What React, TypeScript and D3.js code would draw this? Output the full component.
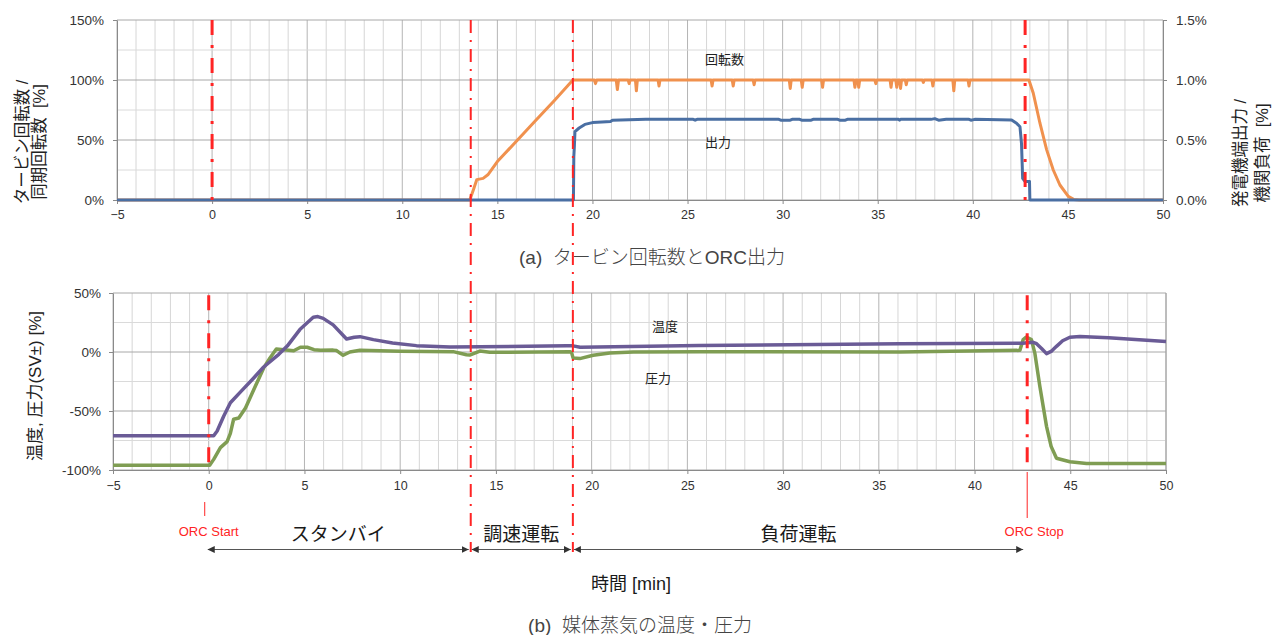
import React, {useEffect, useRef} from 'react';
import * as d3 from "d3";

// time [min], value [%]
const speedData: [number, number][] = [
    [-5, 0], [13.55, 0], [13.75, 9], [13.92, 17], [14.25, 18], [14.5, 21], [15, 32], [16, 49], [17, 66], [18, 83], [18.97, 100],
    [20.1, 100], [20.16, 97], [20.22, 100],
    [21.25, 100], [21.31, 92], [21.37, 100],
    [21.88, 100], [21.93, 97], [21.98, 100],
    [22.26, 100], [22.31, 91], [22.36, 100],
    [23.45, 100], [23.5, 95], [23.55, 100],
    [26.24, 100], [26.29, 95], [26.34, 100],
    [27.35, 100], [27.4, 95], [27.45, 100],
    [28.45, 100], [28.5, 96], [28.55, 100],
    [30.35, 100], [30.4, 93], [30.45, 100],
    [30.98, 100], [31.03, 94], [31.08, 100],
    [32.05, 100], [32.1, 94], [32.15, 100],
    [33.75, 100], [33.8, 94], [33.85, 100],
    [33.95, 100], [34.0, 94], [34.05, 100],
    [34.85, 100], [34.9, 97], [34.95, 100],
    [35.65, 100], [35.7, 94], [35.75, 100],
    [35.95, 100], [36.0, 94], [36.05, 100],
    [36.15, 100], [36.2, 93], [36.25, 100],
    [36.45, 100], [36.5, 96], [36.55, 100],
    [37.35, 100], [37.4, 98], [37.45, 100],
    [37.85, 100], [37.9, 95], [37.95, 100],
    [38.95, 100], [39.0, 91], [39.05, 100],
    [39.75, 100], [39.8, 95], [39.85, 100],
    [42.95, 100], [43.18, 89], [43.53, 64], [43.88, 42], [44.23, 25], [44.58, 12.5], [45.02, 3], [45.3, 0.5], [45.6, 0], [50, 0]
]
// right axis [%]
const powerData: [number, number][] = [
    [-5, 0], [19.0, 0], [19.02, 0.36], [19.05, 0.45], [19.08, 0.57], [19.3, 0.6], [19.6, 0.63], [20.0, 0.645], [20.5, 0.65],
    [20.95, 0.655], [21.05, 0.665], [22.8, 0.672], [25.3, 0.672], [25.4, 0.665], [25.5, 0.672], [29.8, 0.672], [29.9, 0.665],
    [30.4, 0.665], [30.5, 0.672], [30.9, 0.672], [31.0, 0.665], [31.5, 0.665], [31.6, 0.672], [32.9, 0.672], [33.0, 0.665],
    [33.3, 0.665], [33.4, 0.672], [36.1, 0.672], [36.15, 0.665], [36.2, 0.672], [37.8, 0.672], [38.0, 0.678], [38.2, 0.665],
    [38.6, 0.672], [39.8, 0.672], [39.9, 0.665], [40.1, 0.672], [42.04, 0.667], [42.3, 0.64], [42.48, 0.61], [42.56, 0.47],
    [42.62, 0.18], [42.74, 0.155], [42.98, 0.155], [43.0, 0], [50, 0]
]
const tempData: [number, number][] = [
    [-5, -71], [0.26, -71], [0.44, -67], [0.78, -54.5], [1.13, -43], [1.65, -34], [2.35, -22], [2.87, -12.7], [3.66, -2],
    [4.1, 5], [4.76, 19], [5.46, 29.5], [5.7, 30], [5.98, 28.5], [6.5, 23], [7.2, 11], [7.6, 12.5], [7.9, 13], [8.6, 10.5],
    [9.6, 7.6], [10.85, 5.4], [12.6, 4.2], [18.7, 5.2], [19.03, 5.2], [19.4, 4], [25.6, 5.5], [36.1, 7], [42.5, 7.5], [43.06, 8.2],
    [43.24, 7], [43.5, 3], [43.76, -1.4], [44.0, 0.5], [44.28, 4.8], [44.6, 9.5], [44.98, 12.5], [45.5, 13.2], [47, 12], [50, 9]
]
const pressData: [number, number][] = [
    [-5, -96], [0.05, -96], [0.26, -91], [0.61, -81], [0.96, -76], [1.13, -69], [1.3, -57], [1.57, -56], [1.92, -47.5],
    [2.35, -32], [2.87, -13.5], [3.2, -5], [3.53, 2.5], [4.44, 1], [4.79, 4], [5.14, 4], [5.5, 2], [5.84, 1.4], [6.5, 1.6],
    [6.68, 1.2], [7.02, -2.8], [7.37, 0], [7.9, 1.4], [10, 0.6], [12.77, 0.3], [13.46, -2.3], [13.63, -2.6], [14.16, 0.8],
    [14.68, -0.3], [18.86, 0.3], [18.95, -0.3], [19.03, -5], [19.38, -5.6], [20.08, -2.8], [20.95, -0.8], [22.17, 0],
    [25.65, 0.3], [36.1, 0], [42.37, 1.4], [42.54, 10.5], [42.7, 12.7], [42.97, 10.5], [43.15, -1], [43.41, -29],
    [43.76, -63], [44.0, -80], [44.28, -90], [44.98, -93], [45.85, -94.4], [50, -94.4]
]

const xTicks = [-5, 0, 5, 10, 15, 20, 25, 30, 35, 40, 45, 50]
const topLeftTicks = [0, 50, 100, 150]
const topRightTicks = [0, 0.5, 1.0, 1.5]
const bottomTicks = [-100, -50, 0, 50]
// ORC start, governor start, load start, ORC stop [min]
const events = [0, 13.6, 18.97, 42.75]
const phases = ["スタンバイ", "調速運転", "負荷運転"]

const FONT = "'Liberation Sans', Arial, 'Noto Sans CJK JP', sans-serif"
const RED = "#ff2424"

const App = () => {
    const svgRef = useRef(null)
    const width = 1282
    const height = 635

    useEffect(() => {
        const svg = d3.select(svgRef.current)
        svg.selectAll("*").remove()
        svg.style("font-family", FONT)

        const xT = d3.scaleLinear().domain([-5, 50]).range([117, 1163])
        const yT = d3.scaleLinear().domain([0, 150]).range([200, 20])
        const yTR = d3.scaleLinear().domain([0, 1.5]).range([200, 20])
        const xB = d3.scaleLinear().domain([-5, 50]).range([113, 1166])
        const yB = d3.scaleLinear().domain([-100, 50]).range([470, 293])

        const defs = svg.append("defs")
        defs.append("marker").attr("id", "ah").attr("viewBox", "0 0 10 10")
            .attr("refX", 10).attr("refY", 5).attr("markerWidth", 7).attr("markerHeight", 7)
            .attr("markerUnits", "userSpaceOnUse").attr("orient", "auto-start-reverse")
            .append("path").attr("d", "M0,0 L10,5 L0,10 z").attr("fill", "#333")

        //grid
        const grid = (x, y, yMin, yMax) => {
            const g = svg.append("g")
            g.selectAll(".vg").data(d3.range(-5, 51, 1)).join("line")
                .attr("x1", d => x(d)).attr("x2", d => x(d))
                .attr("y1", y(yMax)).attr("y2", y(yMin))
                .attr("stroke", d => d % 5 === 0 ? "#b4b4b4" : "#d6d6d6").attr("stroke-width", 1)
            g.selectAll(".hg").data(d3.range(yMin, yMax + 1, 25)).join("line")
                .attr("x1", x(-5)).attr("x2", x(50))
                .attr("y1", d => y(d)).attr("y2", d => y(d))
                .attr("stroke", d => d % 50 === 0 ? "#a8a8a8" : "#dadada").attr("stroke-width", 1)
        }
        grid(xT, yT, 0, 150)
        grid(xB, yB, -100, 50)

        const styleAxis = (g, size) => {
            g.select(".domain").attr("stroke", "#8a8a8a")
            g.selectAll(".tick line").attr("stroke", "#8a8a8a")
            g.selectAll(".tick text").attr("fill", "#333").style("font-size", size + "px").style("font-family", FONT)
        }

        //axes top
        svg.append("g").attr("transform", "translate(0,200)")
            .call(d3.axisBottom(xT).tickValues(xTicks).tickSize(4).tickPadding(6).tickSizeOuter(0))
            .call(g => styleAxis(g, 12.5))
        svg.append("g").attr("transform", "translate(117,0)")
            .call(d3.axisLeft(yT).tickValues(topLeftTicks).tickFormat(d => d + "%").tickSize(4).tickPadding(9).tickSizeOuter(0))
            .call(g => styleAxis(g, 13.5))
        svg.append("g").attr("transform", "translate(1163,0)")
            .call(d3.axisRight(yTR).tickValues(topRightTicks).tickFormat(d => d3.format(".1f")(d) + "%").tickSize(4).tickPadding(9).tickSizeOuter(0))
            .call(g => styleAxis(g, 13.5))

        //axes bottom
        svg.append("g").attr("transform", "translate(0,470)")
            .call(d3.axisBottom(xB).tickValues(xTicks).tickSize(4).tickPadding(7).tickSizeOuter(0))
            .call(g => styleAxis(g, 12.5))
        svg.append("g").attr("transform", "translate(113,0)")
            .call(d3.axisLeft(yB).tickValues(bottomTicks).tickFormat(d => String(d) + "%").tickSize(4).tickPadding(8).tickSizeOuter(0))
            .call(g => styleAxis(g, 13.5))
        svg.append("line").attr("x1", xB(50)).attr("x2", xB(50)).attr("y1", yB(50)).attr("y2", yB(-100)).attr("stroke", "#a0a0a0")

        //lines
        const lineT = d3.line().x(d => xT(d[0])).y(d => yT(d[1]))
        const lineTR = d3.line().x(d => xT(d[0])).y(d => yTR(d[1]))
        const lineB = d3.line().x(d => xB(d[0])).y(d => yB(d[1]))

        svg.append("path").attr("d", lineT(speedData)).attr("fill", "none")
            .attr("stroke", "#f0914e").attr("stroke-width", 3).attr("stroke-linejoin", "round")
        svg.append("path").attr("d", lineTR(powerData)).attr("fill", "none")
            .attr("stroke", "#4a6fa3").attr("stroke-width", 3).attr("stroke-linejoin", "round")
        svg.append("path").attr("d", lineB(pressData)).attr("fill", "none")
            .attr("stroke", "#7f9d53").attr("stroke-width", 3.5).attr("stroke-linejoin", "round")
        svg.append("path").attr("d", lineB(tempData)).attr("fill", "none")
            .attr("stroke", "#6a5b96").attr("stroke-width", 3.5).attr("stroke-linejoin", "round")

        //series labels
        const label = (x, y, t, size = 13) => svg.append("text").attr("x", x).attr("y", y).text(t)
            .attr("fill", "#222").style("font-size", size + "px")
        label(705, 64, "回転数")
        label(705, 147, "出力")
        label(652, 331, "温度")
        label(645, 383, "圧力")

        //red event lines
        const thick = (x, y1, y2) => svg.append("line").attr("x1", x).attr("x2", x).attr("y1", y1).attr("y2", y2)
            .attr("stroke", RED).attr("stroke-width", 3).attr("stroke-dasharray", "15 10 3 10")
        const thin = (x, y1, y2) => svg.append("line").attr("x1", x).attr("x2", x).attr("y1", y1).attr("y2", y2)
            .attr("stroke", RED).attr("stroke-width", 2).attr("stroke-dasharray", "13 7 2 7")
        thick(xT(events[0]), yT(150), yT(0))
        thick(xT(events[3]), yT(150), yT(0))
        thick(xB(events[0]), yB(48), yB(-100))
        thick(xB(events[3]), yB(48), yB(-100) + 2)
        thin(xT(events[1]), yT(150), 552)
        thin(xT(events[2]), yT(150), 552)

        // ORC start / stop markers
        svg.append("line").attr("x1", xB(events[0]) - 4).attr("x2", xB(events[0]) - 4).attr("y1", 502).attr("y2", 516)
            .attr("stroke", RED).attr("stroke-width", 1)
        svg.append("line").attr("x1", xB(events[3])).attr("x2", xB(events[3])).attr("y1", 472).attr("y2", 518)
            .attr("stroke", RED).attr("stroke-width", 1)
        svg.append("text").attr("x", xB(events[0])).attr("y", 536).attr("text-anchor", "middle")
            .attr("fill", RED).style("font-size", "13px").text("ORC Start")
        svg.append("text").attr("x", xB(events[3]) + 7).attr("y", 536).attr("text-anchor", "middle")
            .attr("fill", RED).style("font-size", "13px").text("ORC Stop")

        //phase arrows
        const arrowX = [[xB(events[0]) - 1, xT(events[1]) - 2], [xT(events[1]) + 1, xT(events[2]) - 2], [xT(events[2]) + 1, xB(events[3]) - 4]]
        arrowX.forEach(([a, b], i) => {
            svg.append("line").attr("x1", a).attr("x2", b).attr("y1", 549.5).attr("y2", 549.5)
                .attr("stroke", "#555").attr("stroke-width", 1)
                .attr("marker-start", "url(#ah)").attr("marker-end", "url(#ah)")
            svg.append("text").attr("x", (a + b) / 2).attr("y", 541).attr("text-anchor", "middle")
                .attr("fill", "#1a1a1a").style("font-size", "19px").text(phases[i])
        })

        //axis titles
        const vtext = (x, y, t, size) => svg.append("text").attr("transform", `translate(${x},${y}) rotate(-90)`)
            .attr("text-anchor", "middle").attr("fill", "#222").style("font-size", size + "px")
            .style("white-space", "pre").text(t)
        vtext(28, 142, "タービン回転数 /", 16.5)
        vtext(45, 142, "同期回転数  [%]", 16.5)
        vtext(1246, 153, "発電機端出力 /", 16.5)
        vtext(1268, 153, "機関負荷  [%]", 16.5)
        vtext(41, 386, "温度, 圧力(SV±) [%]", 17)

        svg.append("text").attr("x", 631).attr("y", 590).attr("text-anchor", "middle")
            .attr("fill", "#1a1a1a").style("font-size", "18px").text("時間 [min]")
        svg.append("text").attr("x", 652).attr("y", 264).attr("text-anchor", "middle")
            .attr("fill", "#444").style("font-size", "19px").style("font-weight", 300).style("white-space", "pre")
            .text("(a)  タービン回転数とORC出力")
        svg.append("text").attr("x", 640).attr("y", 632).attr("text-anchor", "middle")
            .attr("fill", "#444").style("font-size", "19px").style("font-weight", 300).style("white-space", "pre")
            .text("(b)  媒体蒸気の温度・圧力")
    }, [])

    return (
        <svg ref={svgRef} width={width} height={height}
             style={{position: "absolute", left: 0, top: 0, display: "block", background: "#fff"}}>
        </svg>
    );
};

export default App;
